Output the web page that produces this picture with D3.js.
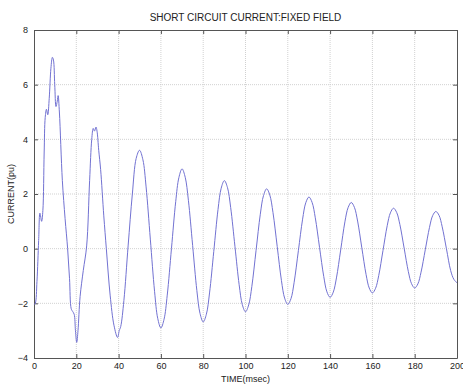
<!DOCTYPE html>
<html>
<head>
<meta charset="utf-8">
<script src="https://cdn.jsdelivr.net/npm/d3@7"></script>
<style>
  html, body { margin: 0; padding: 0; background: #fff; }
  svg { display: block; }
  text { font-family: "Liberation Sans", Arial, sans-serif; fill: #222; }
</style>
</head>
<body>
<div id="chart"></div>
<script>
// Short-circuit current of a machine with fixed field excitation (per unit vs. ms)
const timeMs = [
  0, 0.6, 1.4, 2.2, 2.8, 3.6, 4.2, 4.8, 5.3, 5.9, 6.5, 7.2, 8.0, 8.7, 9.2, 9.8, 10.4, 11.0, 11.4, 12.0,
  13.4, 14.7, 15.9, 16.8, 17.6, 18.3, 19.0, 19.6, 20.2, 20.8, 21.8, 23.3, 24.9, 26.3, 27.3, 28.0, 28.6,
  29.3, 29.8, 30.6, 31.5, 33.0, 34.2, 36.0, 37.8, 39.5, 40.3, 41.0, 42.5, 44.5, 46.5, 48.3, 49.9,
  51.5, 53, 55, 57, 58.5, 60, 61.5, 63, 65, 67, 68.5, 70, 71.5, 73, 75, 77, 78.5, 80,
  81.5, 83, 85, 87, 88.5, 90, 91.5, 93, 95, 97, 98.5, 100, 101.5, 103, 105, 107, 108.5, 110,
  111.5, 113, 115, 117, 118.5, 120, 121.5, 123, 125, 127, 128.5, 130, 131.5, 133, 135, 137, 138.5, 140,
  141.5, 143, 145, 147, 148.5, 150, 151.5, 153, 155, 157, 158.5, 160, 161.5, 163, 165, 167, 168.5, 170,
  171.5, 173, 175, 177, 178.5, 180, 181.5, 183, 185, 187, 188.5, 190, 191.5, 193, 195, 197, 198.5, 200
];
const currentPu = [
  -2.05, -2.0, -1.2, 0.3, 1.3, 1.0, 1.4, 3.5, 4.8, 5.1, 4.9, 5.5, 6.6, 7.0, 6.9, 6.0, 5.2, 5.4, 5.6, 5.0,
  2.5, 1.1, 0.0, -1.1, -2.2, -2.3, -2.4, -3.0, -3.43, -3.0, -1.75, -0.8, 0.1, 2.5, 4.0, 4.4, 4.3,
  4.45, 4.3, 3.6, 2.9, 1.2, 0.0, -1.7, -2.8, -3.25, -3.0, -2.85, -1.9, 0.1, 2.0, 3.3, 3.6,
  3.25, 2.26, 0.35, -1.56, -2.55, -2.9, -2.58, -1.70, 0.01, 1.72, 2.60, 2.92, 2.61, 1.77, 0.12, -1.53, -2.37, -2.68,
  -2.40, -1.62, -0.10, 1.43, 2.21, 2.49, 2.23, 1.50, 0.09, -1.32, -2.05, -2.31, -2.06, -1.38, -0.06, 1.26, 1.94, 2.19,
  1.96, 1.32, 0.075, -1.17, -1.81, -2.04, -1.83, -1.23, -0.075, 1.08, 1.68, 1.89, 1.69, 1.13, 0.05, -1.02, -1.58, -1.78,
  -1.59, -1.07, -0.05, 0.98, 1.50, 1.69, 1.51, 1.01, 0.03, -0.94, -1.44, -1.62, -1.45, -0.98, -0.07, 0.84, 1.31, 1.48,
  1.32, 0.88, 0.02, -0.84, -1.28, -1.44, -1.29, -0.86, -0.04, 0.78, 1.21, 1.36, 1.22, 0.80, 0.0, -0.80, -1.12, -1.25
];
const xTicks = [0, 20, 40, 60, 80, 100, 120, 140, 160, 180, 200];
const yTicks = [-4, -2, 0, 2, 4, 6, 8];
const titleText = "SHORT CIRCUIT CURRENT:FIXED FIELD";
const xLabelText = "TIME(msec)";
const yLabelText = "CURRENT(pu)";

const W = 463, H = 385;
const margin = { left: 34, right: 6, top: 30, bottom: 27 };
const innerW = W - margin.left - margin.right;
const innerH = H - margin.top - margin.bottom;

const svg = d3.select("#chart").append("svg")
  .attr("width", W).attr("height", H);

const g = svg.append("g").attr("transform", `translate(${margin.left},${margin.top})`);

const x = d3.scaleLinear().domain([0, 200]).range([0, innerW]);
const y = d3.scaleLinear().domain([-4, 8]).range([innerH, 0]);

// dotted grid
g.append("g").selectAll("line").data(xTicks.slice(1, -1)).join("line")
  .attr("x1", d => x(d)).attr("x2", d => x(d))
  .attr("y1", 0).attr("y2", innerH)
  .attr("stroke", "#cccccc").attr("stroke-width", 0.9).attr("stroke-dasharray", "1,1");
g.append("g").selectAll("line").data(yTicks.slice(1, -1)).join("line")
  .attr("x1", 0).attr("x2", innerW)
  .attr("y1", d => y(d)).attr("y2", d => y(d))
  .attr("stroke", "#cccccc").attr("stroke-width", 0.9).attr("stroke-dasharray", "1,1");

// axes with inward ticks on all four sides
const axisStyle = sel => {
  sel.select(".domain").attr("stroke", "#555");
  sel.selectAll(".tick line").attr("stroke", "#555");
  sel.selectAll("text").attr("font-size", "9px").attr("fill", "#222")
    .attr("font-family", "'Liberation Sans', Arial, sans-serif");
};
g.append("g").attr("transform", `translate(0,${innerH})`)
  .call(d3.axisBottom(x).tickValues(xTicks).tickSizeInner(-4).tickSizeOuter(0).tickPadding(5))
  .call(axisStyle);
g.append("g")
  .call(d3.axisTop(x).tickValues(xTicks).tickSizeInner(-4).tickSizeOuter(0).tickFormat(""))
  .call(axisStyle);
g.append("g")
  .call(d3.axisLeft(y).tickValues(yTicks).tickSizeInner(-4).tickSizeOuter(0).tickPadding(6))
  .call(axisStyle);
g.append("g").attr("transform", `translate(${innerW},0)`)
  .call(d3.axisRight(y).tickValues(yTicks).tickSizeInner(-4).tickSizeOuter(0).tickFormat(""))
  .call(axisStyle);

// waveform
const pts = timeMs.map((t, i) => [t, currentPu[i]]);
const line = d3.line().x(d => x(d[0])).y(d => y(d[1])).curve(d3.curveCatmullRom.alpha(0.5));
g.append("path").datum(pts)
  .attr("fill", "none").attr("stroke", "#7272d2").attr("stroke-width", 1)
  .attr("d", line);

// labels
svg.append("text").attr("x", margin.left + innerW / 2).attr("y", 21)
  .attr("text-anchor", "middle").attr("font-size", "10px").text(titleText);
svg.append("text").attr("x", margin.left + innerW / 2).attr("y", 382)
  .attr("text-anchor", "middle").attr("font-size", "9px").text(xLabelText);
svg.append("text").attr("transform", `translate(14,${margin.top + innerH / 2}) rotate(-90)`)
  .attr("text-anchor", "middle").attr("font-size", "9px").text(yLabelText);
</script>
</body>
</html>
